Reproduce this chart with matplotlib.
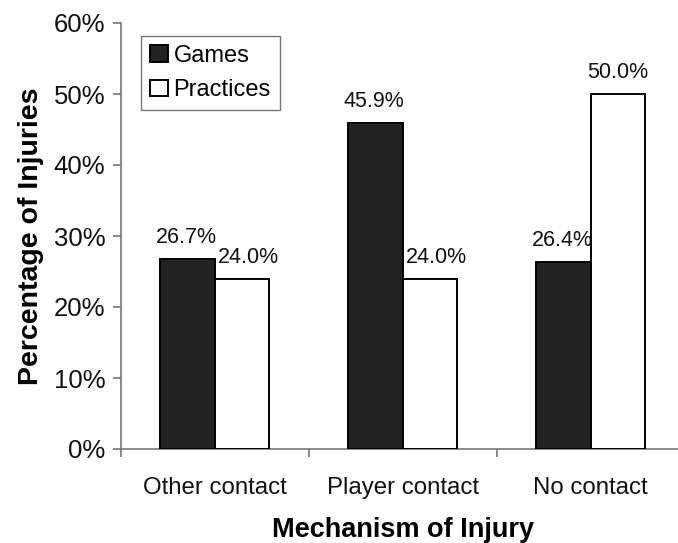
import numpy as np
import matplotlib
matplotlib.use("Agg")
import matplotlib.pyplot as plt

plt.rcParams['font.family'] = ['Liberation Sans', 'DejaVu Sans']

categories = ["Other contact", "Player contact", "No contact"]
games = [26.7, 45.9, 26.4]
practices = [24.0, 24.0, 50.0]
yticks = [0, 10, 20, 30, 40, 50, 60]

W, H = 678, 543
fig = plt.figure(figsize=(W / 100, H / 100), dpi=100)
# axes box in pixel coords: y axis at x=120.7, 0% at y=449, 60% at y=23
left, right = 120.7, 684.7
top, bottom = 23, 449
ax = fig.add_axes([left / W, 1 - bottom / H, (right - left) / W, (bottom - top) / H])

x = np.arange(len(categories))
bw = 0.29
ax.bar(x - bw / 2, games, bw, color="#222222", edgecolor="black", linewidth=1.4, label="Games", zorder=3)
ax.bar(x + bw / 2, practices, bw, color="white", edgecolor="black", linewidth=1.4, label="Practices", zorder=3)

# practices labels nudged right a bit where they sit next to the games label
p_dx = [5, 5, 0]
for xi, g, p, dx in zip(x, games, practices, p_dx):
    ax.annotate(f"{g:.1f}%", (xi - bw / 2, g), xytext=(-1, 11.5), textcoords="offset points",
                ha="center", va="baseline", fontsize=15.5, color="#111111")
    ax.annotate(f"{p:.1f}%", (xi + bw / 2, p), xytext=(dx, 11.5), textcoords="offset points",
                ha="center", va="baseline", fontsize=15.5, color="#111111")

ax.set_xlim(-0.5, 2.5)
ax.set_ylim(0, 60)
ax.set_yticks(yticks)
ax.set_yticklabels([f"{v}%" for v in yticks])
ax.set_xticks(x)
ax.set_xticklabels(categories)
ax.set_xticks([-0.5, 0.5, 1.5], minor=True)
ax.tick_params(axis="x", which="major", length=0, pad=20, labelsize=17.3, colors="#111111")
ax.tick_params(axis="x", which="minor", length=6, width=1.2, color="#777777")
ax.tick_params(axis="y", length=6, width=1.2, color="#777777", pad=5, labelsize=18.5, labelcolor="#111111")

for s in ["top", "right"]:
    ax.spines[s].set_visible(False)
for s in ["left", "bottom"]:
    ax.spines[s].set_color("#777777")
    ax.spines[s].set_linewidth(1.2)

ax.set_xlabel("Mechanism of Injury", fontsize=19.5, fontweight="bold", labelpad=13)
ax.set_ylabel("Percentage of Injuries", fontsize=20.5, fontweight="bold", labelpad=7)

leg = ax.legend(loc="upper left", bbox_to_anchor=(141 / W, 1 - 36 / H), bbox_transform=fig.transFigure,
                borderaxespad=0, fontsize=17, frameon=True, fancybox=False, handlelength=0.75,
                handleheight=0.7, handletextpad=0.25, borderpad=0.38, labelspacing=0.52)
leg.get_frame().set_edgecolor("#555555")
leg.get_frame().set_linewidth(1.0)
for h in leg.legend_handles:
    h.set_linewidth(1.4)

fig.savefig("out.png", dpi=100)
